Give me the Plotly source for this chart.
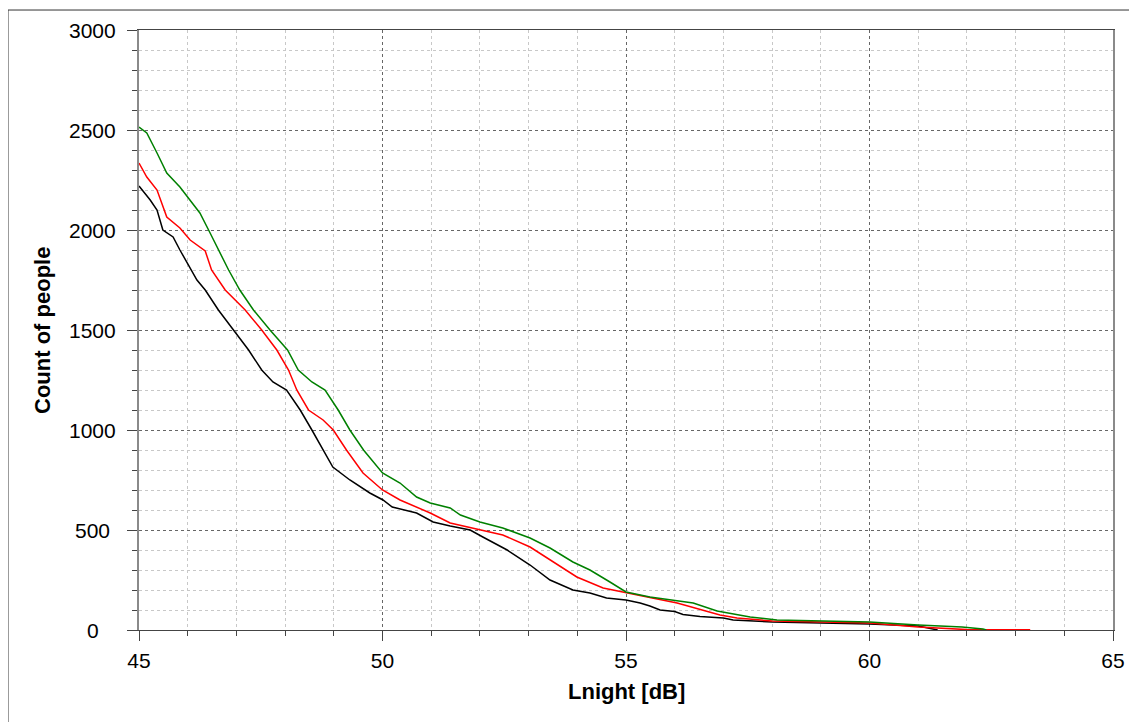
import plotly.graph_objects as go

# ---- data ----
black_x = [45.0, 45.23, 45.37, 45.49, 45.7, 45.84, 46.19, 46.36, 46.63, 46.94, 47.25, 47.52, 47.75,
           48.03, 48.31, 48.55, 48.78, 48.98, 49.33, 49.74, 50.01, 50.2, 50.7, 51.04, 51.39, 51.8,
           52.06, 52.56, 53.03, 53.44, 53.91, 54.26, 54.6, 55.0, 55.29, 55.49, 55.7, 56.0, 56.17,
           56.52, 57.0, 57.2, 58.0, 58.9, 60.0, 61.0, 61.3, 61.4]
black_y = [2220, 2150, 2100, 2000, 1965, 1900, 1750, 1700, 1600, 1500, 1400, 1300, 1240,
           1200, 1100, 1000, 900, 815, 750, 685, 650, 615, 585, 540, 520, 500,
           465, 400, 325, 250, 200, 185, 160, 150, 135, 120, 100, 92, 78,
           68, 60, 50, 40, 35, 30, 20, 5, 0]

red_x = [45.0, 45.16, 45.37, 45.57, 45.84, 46.05, 46.36, 46.49, 46.77, 47.18, 47.52, 47.83, 48.07,
         48.24, 48.48, 48.78, 48.99, 49.26, 49.6, 50.0, 50.36, 50.98, 51.39, 52.0, 52.47, 53.03,
         53.44, 53.99, 54.53, 55.0, 55.49, 56.05, 56.52, 56.93, 57.28, 58.0, 59.05, 60.0, 61.0,
         61.65, 62.0, 63.3]
red_y = [2335, 2265, 2200, 2065, 2010, 1950, 1895, 1800, 1700, 1600, 1500, 1400, 1300,
         1200, 1100, 1050, 1000, 900, 785, 700, 650, 585, 535, 500, 475, 415,
         350, 265, 210, 185, 162, 135, 105, 75, 60, 45, 40, 35, 15,
         5, 2, 1]

green_x = [45.0, 45.16, 45.37, 45.57, 45.84, 46.05, 46.25, 46.46, 46.63, 46.84, 47.07, 47.35, 47.69,
           48.05, 48.27, 48.55, 48.82, 49.09, 49.33, 49.61, 50.0, 50.36, 50.7, 50.98, 51.39, 51.6,
           52.0, 52.47, 53.03, 53.44, 53.91, 54.26, 54.67, 55.0, 55.49, 55.96, 56.38, 56.87, 57.55,
           58.1, 60.0, 61.0, 61.9, 62.33, 62.4]
green_y = [2515, 2485, 2385, 2285, 2215, 2150, 2085, 1985, 1900, 1800, 1700, 1600, 1500,
           1400, 1300, 1240, 1200, 1100, 1000, 900, 785, 735, 665, 635, 610, 575,
           540, 510, 460, 410, 340, 300, 240, 190, 165, 150, 135, 95, 65,
           50, 40, 25, 15, 5, 0]

y_tick_values = [0, 500, 1000, 1500, 2000, 2500, 3000]
y_tick_labels = ["0", "500", "1000", "1500", "2000", "2500", "3000"]
x_tick_values = [45, 50, 55, 60, 65]
x_tick_labels = ["45", "50", "55", "60", "65"]

FONT = "Liberation Sans, Arial, sans-serif"

fig = go.Figure()
for xs, ys, col in [(black_x, black_y, "#000000"),
                    (red_x, red_y, "#ff0000"),
                    (green_x, green_y, "#008000")]:
    fig.add_trace(go.Scatter(x=xs, y=ys, mode="lines",
                             line=dict(color=col, width=1.5), showlegend=False,
                             hoverinfo="skip"))

fig.update_xaxes(
    range=[45, 65], tickvals=x_tick_values, ticktext=x_tick_labels,
    showgrid=True, gridcolor="#666666", griddash="dot", gridwidth=1,
    minor=dict(dtick=1, tick0=45, showgrid=True, gridcolor="#c8c8c8", griddash="dot",
               ticks="outside", ticklen=5, tickcolor="#444444"),
    ticks="outside", ticklen=10, tickcolor="#444444",
    showline=True, linecolor="#444444", linewidth=1, mirror=True,
    zeroline=False, tickfont=dict(family=FONT, size=21, color="#000000"),
    ticklabelstandoff=2,
)
fig.update_yaxes(
    range=[0, 3000], tickvals=y_tick_values, showticklabels=False,
    showgrid=True, gridcolor="#666666", griddash="dot", gridwidth=1,
    minor=dict(dtick=100, tick0=0, showgrid=True, gridcolor="#c8c8c8", griddash="dot",
               ticks="outside", ticklen=5, tickcolor="#444444"),
    ticks="outside", ticklen=10, tickcolor="#444444",
    showline=True, linecolor="#8a8a8a", linewidth=2, mirror=True,
    zeroline=False,
)

annotations = []
for v, t in zip(y_tick_values, y_tick_labels):
    annotations.append(dict(x=-0.0477, xref="paper", y=v, yref="y", text=t,
                            showarrow=False, xanchor="center", yanchor="middle",
                            font=dict(family=FONT, size=21, color="#000000")))
annotations.append(dict(x=0.5, xref="paper", y=-0.1033, yref="paper", text="<b>Lnight [dB]</b>",
                        showarrow=False, xanchor="center", yanchor="middle",
                        font=dict(family=FONT, size=22, color="#000000")))
annotations.append(dict(x=-0.0996, xref="paper", y=0.5, yref="paper", text="<b>Count of people</b>",
                        showarrow=False, xanchor="center", yanchor="middle", textangle=-90,
                        font=dict(family=FONT, size=22, color="#000000")))

fig.update_layout(
    width=1129, height=714,
    margin=dict(l=131, r=24, t=22, b=92),
    paper_bgcolor="#ffffff", plot_bgcolor="#ffffff",
    annotations=annotations,
    shapes=[dict(type="rect", xref="paper", yref="paper",
                 x0=-0.1345, x1=1.04, y0=-0.2, y1=1.0333,
                 line=dict(color="#333333", width=1), layer="below")],
)

fig.write_html("out.html")
